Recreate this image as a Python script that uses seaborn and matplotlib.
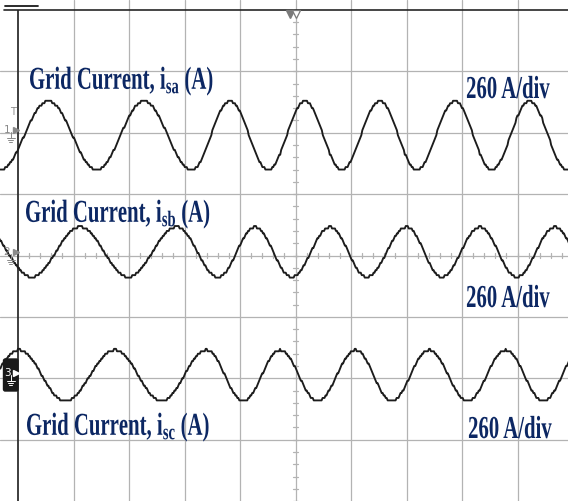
import numpy as np
import pandas as pd
import matplotlib
matplotlib.use("Agg")
import matplotlib.pyplot as plt
import seaborn as sns
from matplotlib.patheffects import AbstractPathEffect
from matplotlib.transforms import Affine2D
from matplotlib.patches import FancyBboxPatch

# ---------------------------------------------------------------------------
# Scope capture: three grid phase currents, 260 A/div.
# Each phase is given as the times (in screen divisions) of its successive
# peaks and troughs, the sign of the first extremum, its peak current and
# the vertical position of the channel on the screen (divisions).
# ---------------------------------------------------------------------------
phase_names = ["sa", "sb", "sc"]

sa_extrema_t = [-0.319, 0.546, 1.418, 2.270, 3.130, 3.820, 4.510, 5.171,
                5.832, 6.523, 7.184, 7.874, 8.535, 9.213, 9.892, 10.56]
sb_extrema_t = [-0.623, 0.247, 1.117, 1.987, 2.859, 3.609, 4.270, 4.932,
                5.622, 6.283, 7.004, 7.634, 8.324, 8.986, 9.676, 10.34]
sc_extrema_t = [-0.811, 0.018, 0.847, 1.748, 2.589, 3.400, 4.059, 4.721,
                5.400, 6.085, 6.733, 7.405, 8.103, 8.787, 9.465, 10.14]

first_sign = [-1, 1, -1]               # trough / peak / trough at the left
peak_current = [146.0, 106.0, 108.0]   # A
channel_offset = [1.954, 0.057, -1.954]  # div
amps_per_div = 260.0

label_text = [r"Grid Current, $\mathrm{i_{sa}}$ (A)",
              r"Grid Current, $\mathrm{i_{sb}}$ (A)",
              r"Grid Current, $\mathrm{i_{sc}}$ (A)"]
scale_text = "260 A/div"

# ---------------------------------------------------------------------------
sns.set_style("white")
plt.rcParams["mathtext.fontset"] = "custom"
plt.rcParams["mathtext.rm"] = "Liberation Serif:bold"
plt.rcParams["mathtext.it"] = "Liberation Serif:bold"
plt.rcParams["mathtext.bf"] = "Liberation Serif:bold"
plt.rcParams["font.family"] = ["Liberation Serif", "DejaVu Sans"]


class Condensed(AbstractPathEffect):
    """Draw text squeezed horizontally about its left or right edge."""

    def __init__(self, sx, anchor="left"):
        super().__init__()
        self._sx = sx
        self._anchor = anchor

    def draw_path(self, renderer, gc, tpath, affine, rgbFace=None):
        if self._anchor == "right":
            x0 = tpath.get_extents(affine).x1
        else:
            x0 = affine.get_matrix()[0, 2]
        squeeze = Affine2D().translate(-x0, 0).scale(self._sx, 1).translate(x0, 0)
        renderer.draw_path(gc, tpath, affine + squeeze, rgbFace)


def trace(extrema_t, sign, amp, offset, dt=1 / 55.5, q=0.04):
    """Half-cosine segments between successive extrema, shown on the
    scope's vertical resolution (q div per level)."""
    ts, ys = [], []
    vals = [sign * amp * (-1) ** k for k in range(len(extrema_t))]
    for k in range(len(extrema_t) - 1):
        t0, t1 = extrema_t[k], extrema_t[k + 1]
        n = max(int(np.ceil((t1 - t0) / dt)), 2)
        t = np.linspace(t0, t1, n, endpoint=False)
        u = (t - t0) / (t1 - t0)
        v = vals[k] + (vals[k + 1] - vals[k]) * (1 - np.cos(np.pi * u)) / 2
        ts.append(t)
        ys.append(v)
    t = np.concatenate(ts)
    y = offset + np.concatenate(ys) / amps_per_div
    y = np.round(y / q) * q
    return t, y


W, H, DPI = 568, 501, 100
fig = plt.figure(figsize=(W / DPI, H / DPI), dpi=DPI)
ax = fig.add_axes([0, 0, 1, 1])

px_per_div_x, px_per_div_y = 55.5, 61.4
x_left_px, y_mid_px = 18.0, 255.5
XLIM = (-x_left_px / px_per_div_x, (W - x_left_px) / px_per_div_x)
YLIM = (-(H - y_mid_px) / px_per_div_y, y_mid_px / px_per_div_y)


def px2div(px, py):
    return (px - x_left_px) / px_per_div_x, (y_mid_px - py) / px_per_div_y


grid_c = "#b3b3b3"
for gx in range(1, 10):
    ax.axvline(gx, color=grid_c, lw=0.9, zorder=1)
for gy in range(-3, 4):
    ax.axhline(gy, color=grid_c, lw=0.9, zorder=1)

# minor ticks on the centre cross
for k in range(-20, 21):
    yy = k * 0.2
    ax.plot([5 - 0.045, 5 + 0.045], [yy, yy], color=grid_c, lw=0.9, zorder=1)
for k in range(0, 50):
    xx = k * 0.2
    ax.plot([xx, xx], [-0.04, 0.04], color=grid_c, lw=0.9, zorder=1)

# screen frame
ax.plot([0, 0], [-4.2, 4.0], color="#2e2e2e", lw=1.3, zorder=3, solid_capstyle="butt")
x0d, _ = px2div(4, 0)
ax.plot([x0d, 11], [4.0, 4.0], color="#262626", lw=1.2, zorder=3)
xa, ya = px2div(5, 6)
xb, _ = px2div(38, 6)
ax.plot([xa, xb], [ya, ya], color="#1a1a1a", lw=1.3, zorder=3)

# trigger position marker
tx1, ty = px2div(289.5, 14)
tx2, _ = px2div(296, 14)
ax.plot([tx1], [ty], marker="v", ms=6, color="#7a7a7a", mec="#7a7a7a", zorder=4)
ax.plot([tx2], [ty], marker="v", ms=6, color="white", mec="#7a7a7a", mew=0.9, zorder=4)

# the three current traces
frames = []
for name, ext, sgn, amp, off in zip(phase_names,
                                    [sa_extrema_t, sb_extrema_t, sc_extrema_t],
                                    first_sign, peak_current, channel_offset):
    t, y = trace(ext, sgn, amp, off)
    frames.append(pd.DataFrame({"t": t, "y": y, "phase": name}))
df = pd.concat(frames, ignore_index=True)
sns.lineplot(data=df, x="t", y="y", units="phase", estimator=None, sort=False,
             color="#1c1c1c", lw=1.35, ax=ax, zorder=5, legend=False)
ax.set_xlim(*XLIM)
ax.set_ylim(*YLIM)
ax.set_axis_off()

# channel markers at the left edge
mk_c = "#8a8a8a"


def channel_marker(num, py, boxed=False, trig=False):
    fg = "white" if boxed else mk_c
    if boxed:
        bx, by = px2div(3.5, py + 18)
        bw = 14.5 / px_per_div_x
        bh = 32 / px_per_div_y
        ax.add_patch(FancyBboxPatch((bx, by), bw, bh,
                                    boxstyle="round,pad=0,rounding_size=0.03",
                                    fc="#1a1a1a", ec="#1a1a1a", zorder=6))
    x, y = px2div(7, py)
    ax.text(x, y, str(num), color=fg, fontsize=7.5, ha="center", va="center",
            family="DejaVu Sans", zorder=7)
    x, y = px2div(15.5, py)
    ax.plot([x], [y], marker=">", ms=4.5, color=fg, zorder=7)
    # ground symbol
    gx, _ = px2div(10.5, 0)
    _, g0 = px2div(0, py + 2)
    _, g1 = px2div(0, py + 8)
    ax.plot([gx, gx], [g0, g1], color=fg, lw=0.7, zorder=7)
    for i, half in enumerate([4, 2.8, 1.4]):
        _, gy = px2div(0, py + 8 + 2.2 * i)
        ax.plot([gx - half / px_per_div_x, gx + half / px_per_div_x], [gy, gy],
                color=fg, lw=0.7, zorder=7)
    if trig:
        x, y = px2div(13, py - 18)
        ax.text(x, y, "T", color=mk_c, fontsize=7, ha="center", va="center",
                family="DejaVu Sans", zorder=7)


channel_marker(1, 130, trig=True)
channel_marker(2, 252)
channel_marker(3, 373, boxed=True)

# labels
navy = "#0c2763"
label_pos_px = [(29, 89), (25, 222), (26, 435)]
scale_pos_px = [(550, 98), (550, 307), (552, 438)]
for txt, (px, py) in zip(label_text, label_pos_px):
    x, y = px2div(px, py)
    ax.text(x, y, txt, color=navy, fontsize=23, fontweight="bold",
            ha="left", va="baseline",
            path_effects=[Condensed(0.65)], zorder=8)
for (px, py) in scale_pos_px:
    x, y = px2div(px, py)
    ax.text(x, y, scale_text, color=navy, fontsize=23, fontweight="bold",
            ha="right", va="baseline",
            path_effects=[Condensed(0.65, anchor="right")], zorder=8)

fig.savefig("out.png", dpi=DPI, facecolor="white")
